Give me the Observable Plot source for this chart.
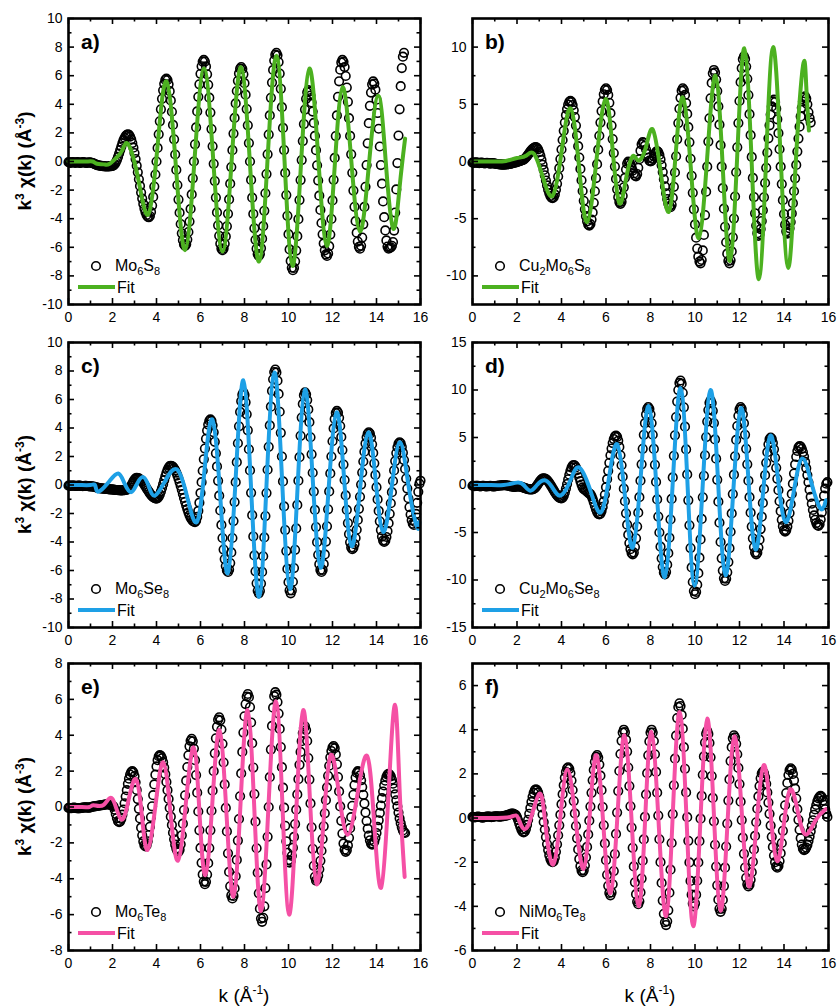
<!DOCTYPE html>
<html>
<head>
<meta charset="utf-8">
<script src="https://cdn.jsdelivr.net/npm/d3@7"></script>
<script src="https://cdn.jsdelivr.net/npm/@observablehq/plot@0.6"></script>
<style>
  body { margin: 0; background: #fff; }
  #fig { position: relative; width: 839px; height: 1008px; font-family: "Liberation Sans", Arial, sans-serif; }
  #fig svg { position: absolute; overflow: visible; }
</style>
</head>
<body>
<div id="fig"></div>
<script>
// k grid of the measured spectra: k = 0, 0.05, 0.10, ... (Å^-1)
const kStep = 0.05;

// Measured k^3·chi(k), one value per grid point
const expMo6S8 = [
  -0.05,-0.08,-0.1,-0.06,-0.04,-0.07,-0.1,-0.08,-0.05,-0.06,-0.09,-0.1,-0.07,-0.05,-0.06,-0.08,-0.1,-0.09,-0.07,-0.06,-0.08,-0.1,-0.12,-0.15,
  -0.18,-0.22,-0.25,-0.27,-0.28,-0.3,-0.31,-0.32,-0.33,-0.34,-0.35,-0.35,-0.35,-0.34,-0.33,-0.32,
  -0.3,
  -0.27,-0.19,-0.06,0.11,0.32,0.56,0.8,1.04,1.28,1.49,1.66,1.79,1.87,1.9,
  1.86,1.74,1.55,1.29,0.97,0.59,0.17,-0.29,-0.76,-1.24,-1.71,-2.17,-2.59,-2.97,-3.29,-3.55,-3.74,-3.86,-3.9,
  -3.81,-3.53,-3.08,-2.48,-1.75,-0.91,0,0.95,1.9,2.81,3.65,4.38,4.98,5.43,5.71,5.8,
  5.7,5.4,4.92,4.27,3.48,2.56,1.55,0.49,-0.59,-1.65,-2.66,-3.58,-4.37,-5.02,-5.5,-5.8,-5.9,
  -5.79,-5.46,-4.93,-4.2,-3.32,-2.3,-1.18,0,1.2,2.38,3.5,4.52,5.4,6.13,6.66,6.99,7.1,
  6.99,6.65,6.1,5.36,4.46,3.42,2.27,1.06,-0.16,-1.37,-2.52,-3.56,-4.46,-5.2,-5.75,-6.09,-6.2,
  -6.09,-5.76,-5.24,-4.53,-3.66,-2.65,-1.55,-0.39,0.79,1.95,3.05,4.06,4.93,5.64,6.16,6.49,6.6,
  6.47,6.1,5.48,4.67,3.67,2.53,1.29,0,-1.29,-2.53,-3.67,-4.67,-5.48,-6.1,-6.47,-6.6,
  -6.47,-6.06,-5.4,-4.52,-3.45,-2.22,-0.88,0.5,1.88,3.22,4.45,5.52,6.4,7.06,7.47,7.6,
  7.43,6.95,6.15,5.08,3.8,2.35,0.8,-0.8,-2.35,-3.8,-5.08,-6.15,-6.95,-7.43,-7.6,
  -7.44,-6.98,-6.23,-5.22,-4.03,-2.7,-1.3,0.1,1.43,2.62,3.63,4.38,4.84,5.0,
  4.9,4.61,4.13,3.49,2.7,1.79,0.79,-0.27,-1.33,-2.39,-3.39,-4.3,-5.09,-5.73,-6.21,-6.5,-6.6,
  -6.43,-5.92,-5.11,-4.02,-2.72,-1.28,0.25,1.78,3.22,4.52,5.61,6.42,6.93,7.1,
  6.97,6.6,5.98,5.17,4.17,3.03,1.79,0.5,-0.79,-2.03,-3.17,-4.17,-4.98,-5.6,-5.97,-6.1,
  -5.9,-5.32,-4.39,-3.18,-1.77,-0.25,1.27,2.68,3.89,4.82,5.4,5.6,
  5.45,5.02,4.32,3.39,2.29,1.05,-0.25,-1.55,-2.79,-3.89,-4.82,-5.52,-5.95,-6.1,
  -6.05,-6.0,-5.9,
  -5.63,-4.83,-3.57,-1.95,-0.11,1.81,3.65,5.27,6.53,7.33,7.6
];
const expCu2Mo6S8 = [
  -0.1,-0.12,-0.1,-0.08,-0.1,-0.12,-0.14,-0.12,-0.1,-0.12,-0.15,-0.16,-0.14,-0.12,-0.14,-0.16,-0.18,-0.17,-0.15,-0.16,-0.18,
  -0.2,-0.22,-0.24,-0.25,-0.26,-0.27,-0.28,-0.28,-0.27,-0.26,-0.25,-0.24,-0.22,-0.2,-0.18,-0.15,-0.12,-0.1,-0.08,-0.05,-0.02,0.02,0.06,0.1,
  0.12,0.17,0.24,0.35,0.47,0.61,0.74,0.88,1.0,1.11,1.18,1.23,1.25,
  1.2,1.06,0.82,0.51,0.14,-0.29,-0.74,-1.21,-1.66,-2.09,-2.46,-2.77,-3.01,-3.15,-3.2,
  -3.12,-2.88,-2.48,-1.95,-1.31,-0.58,0.22,1.05,1.88,2.68,3.41,4.05,4.58,4.98,5.22,5.3,
  5.21,4.93,4.48,3.88,3.14,2.28,1.34,0.35,-0.65,-1.64,-2.58,-3.44,-4.18,-4.78,-5.23,-5.51,-5.6,
  -5.47,-5.08,-4.45,-3.61,-2.6,-1.45,-0.23,1.03,2.25,3.4,4.41,5.25,5.88,6.27,6.4,
  6.25,5.82,5.13,4.22,3.14,1.96,0.74,-0.44,-1.52,-2.43,-3.12,-3.55,-3.7,
  -3.52,-3.0,-2.26,-1.44,-0.7,-0.18,0,
  -0.06,-0.25,-0.5,-0.79,-1.05,-1.24,-1.3,
  -1.1,-0.55,0.2,0.95,1.5,1.7,
  1.62,1.38,1.04,0.66,0.32,0.08,0,
  0.06,0.23,0.45,0.68,0.84,0.9,
  0.82,0.57,0.18,-0.33,-0.92,-1.55,-2.18,-2.78,-3.28,-3.67,-3.92,-4.0,
  -3.79,-3.17,-2.21,-0.96,0.46,1.94,3.36,4.61,5.57,6.19,6.4,
  6.25,5.82,5.11,4.16,3.0,1.68,0.24,-1.25,-2.74,-4.18,-5.5,-6.66,-7.61,-8.32,-8.75,-8.9,
  -8.61,-7.77,-6.42,-4.68,-2.64,-0.45,1.74,3.78,5.52,6.87,7.71,8.0,
  7.79,7.16,6.16,4.81,3.22,1.43,-0.45,-2.33,-4.12,-5.71,-7.06,-8.06,-8.69,-8.9,
  -8.64,-7.86,-6.63,-4.99,-3.06,-0.94,1.24,3.36,5.29,6.93,8.16,8.94,9.2,
  8.97,8.3,7.23,5.81,4.14,2.3,0.4,-1.44,-3.11,-4.53,-5.6,-6.27,-6.5,
  -6.35,-5.91,-5.2,-4.26,-3.13,-1.88,-0.55,0.78,2.03,3.16,4.1,4.81,5.25,5.4,
  5.2,4.62,3.69,2.48,1.07,-0.45,-1.97,-3.38,-4.59,-5.52,-6.1,-6.3,
  -6.19,-5.84,-5.29,-4.54,-3.64,-2.6,-1.47,-0.3,0.87,2.0,3.04,3.94,4.69,5.24,5.59,5.7,
  5.5,5.0,4.3,3.8,3.4
];
const expMo6Se8 = [
  -0.05,-0.05,-0.06,-0.05,-0.04,-0.05,-0.06,-0.07,-0.06,-0.05,-0.05,-0.06,-0.07,-0.08,-0.07,-0.06,-0.06,-0.07,-0.08,-0.09,-0.1,-0.1,-0.11,-0.12,-0.14,-0.16,
  -0.18,-0.2,-0.22,-0.23,-0.24,-0.25,-0.26,-0.27,-0.28,-0.28,-0.29,-0.3,-0.3,-0.31,-0.32,-0.33,-0.34,-0.35,-0.35,-0.36,-0.37,-0.38,-0.38,-0.38,-0.37,-0.36,-0.34,-0.32,-0.3,
  -0.27,-0.18,-0.05,0.1,0.25,0.38,0.47,0.5,
  0.49,0.46,0.4,0.33,0.24,0.14,0.02,-0.1,-0.23,-0.35,-0.47,-0.59,-0.69,-0.78,-0.85,-0.91,-0.94,-0.95,
  -0.92,-0.82,-0.66,-0.45,-0.21,0.06,0.34,0.61,0.85,1.06,1.22,1.32,1.35,
  1.33,1.27,1.17,1.04,0.87,0.67,0.44,0.19,-0.07,-0.34,-0.63,-0.91,-1.18,-1.44,-1.69,-1.92,-2.12,-2.29,-2.42,-2.52,-2.58,-2.6,
  -2.51,-2.24,-1.82,-1.24,-0.56,0.2,1.0,1.8,2.56,3.24,3.82,4.24,4.51,4.6,
  4.5,4.19,3.7,3.03,2.22,1.3,0.29,-0.75,-1.79,-2.8,-3.72,-4.53,-5.2,-5.69,-6.0,-6.1,
  -5.94,-5.48,-4.73,-3.72,-2.53,-1.2,0.2,1.6,2.93,4.12,5.13,5.88,6.34,6.5,
  6.32,5.8,4.96,3.84,2.51,1.02,-0.55,-2.12,-3.61,-4.94,-6.06,-6.9,-7.42,-7.6,
  -7.43,-6.92,-6.1,-5.0,-3.68,-2.18,-0.57,1.07,2.68,4.18,5.5,6.6,7.42,7.93,8.1,
  7.9,7.32,6.39,5.14,3.66,2.0,0.25,-1.5,-3.16,-4.64,-5.89,-6.82,-7.4,-7.6,
  -7.4,-6.79,-5.83,-4.55,-3.05,-1.4,0.3,1.95,3.45,4.73,5.69,6.3,6.5,
  6.36,5.96,5.3,4.41,3.35,2.15,0.86,-0.46,-1.75,-2.95,-4.01,-4.9,-5.56,-5.96,-6.1,
  -5.96,-5.54,-4.87,-3.97,-2.9,-1.71,-0.45,0.81,2.0,3.07,3.97,4.64,5.06,5.2,
  5.08,4.72,4.14,3.37,2.45,1.43,0.35,-0.73,-1.75,-2.67,-3.44,-4.02,-4.38,-4.5,
  -4.41,-4.15,-3.72,-3.14,-2.45,-1.67,-0.83,0.03,0.87,1.65,2.34,2.92,3.35,3.61,3.7,
  3.6,3.32,2.86,2.25,1.52,0.71,-0.15,-1.01,-1.82,-2.55,-3.16,-3.62,-3.9,-4.0,
  -3.91,-3.65,-3.24,-2.68,-2.02,-1.28,-0.5,0.28,1.02,1.68,2.24,2.65,2.91,3.0,
  2.92,2.67,2.27,1.75,1.13,0.45,-0.25,-0.93,-1.55,-2.07,-2.47,-2.72,-2.8,
  -2.59,-2.03,-1.25,-0.48,0.09,0.3
];
const expCu2Mo6Se8 = [
  -0.08,-0.1,-0.12,-0.1,-0.08,-0.1,-0.12,-0.14,-0.12,-0.1,-0.1,-0.12,-0.14,-0.15,-0.13,-0.11,-0.1,-0.12,-0.14,-0.15,-0.14,-0.12,-0.1,-0.08,-0.06,
  -0.05,-0.04,-0.03,-0.02,-0.02,-0.03,-0.05,-0.07,-0.1,-0.13,-0.16,-0.18,-0.2,-0.2,-0.18,-0.16,-0.15,-0.16,-0.18,-0.2,
  -0.24,-0.28,-0.32,-0.36,-0.4,-0.43,-0.45,-0.46,-0.46,-0.45,
  -0.42,-0.34,-0.21,-0.05,0.13,0.3,0.46,0.59,0.67,0.7,
  0.68,0.62,0.52,0.39,0.23,0.05,-0.15,-0.35,-0.55,-0.75,-0.93,-1.09,-1.22,-1.32,-1.38,-1.4,
  -1.33,-1.12,-0.8,-0.38,0.1,0.6,1.08,1.5,1.82,2.03,2.1,
  2.04,1.85,1.56,1.2,0.8,0.4,0.04,-0.25,-0.44,-0.5,
  -0.6,-0.7,-0.8,-0.9,
  -0.97,-1.16,-1.45,-1.81,-2.19,-2.55,-2.84,-3.03,-3.1,
  -3.01,-2.74,-2.31,-1.73,-1.03,-0.23,0.61,1.49,2.33,3.13,3.83,4.41,4.84,5.11,5.2,
  5.06,4.66,4.01,3.13,2.08,0.88,-0.39,-1.71,-2.98,-4.18,-5.23,-6.11,-6.76,-7.16,-7.3,
  -7.11,-6.53,-5.61,-4.38,-2.91,-1.28,0.45,2.18,3.81,5.28,6.51,7.43,8.01,8.2,
  8.01,7.44,6.52,5.29,3.8,2.12,0.32,-1.52,-3.32,-5.0,-6.49,-7.72,-8.64,-9.21,-9.4,
  -9.15,-8.39,-7.18,-5.55,-3.63,-1.47,0.8,3.07,5.23,7.15,8.78,9.99,10.75,11.0,
  10.67,9.71,8.18,6.14,3.74,1.11,-1.61,-4.24,-6.64,-8.68,-10.21,-11.17,-11.5,
  -11.25,-10.49,-9.28,-7.65,-5.73,-3.57,-1.3,0.97,3.13,5.05,6.68,7.89,8.65,8.9,
  8.62,7.81,6.52,4.8,2.77,0.55,-1.75,-3.97,-6.0,-7.72,-9.01,-9.82,-10.1,
  -9.87,-9.19,-8.11,-6.65,-4.92,-2.99,-0.95,1.09,3.02,4.75,6.21,7.29,7.97,8.2,
  8.01,7.43,6.51,5.28,3.81,2.18,0.45,-1.28,-2.91,-4.38,-5.61,-6.53,-7.11,-7.3,
  -7.12,-6.59,-5.76,-4.64,-3.33,-1.89,-0.41,1.03,2.34,3.46,4.29,4.82,5.0,
  4.86,4.43,3.76,2.86,1.81,0.65,-0.55,-1.71,-2.76,-3.66,-4.33,-4.76,-4.9,
  -4.77,-4.38,-3.77,-2.96,-2.0,-0.94,0.14,1.2,2.16,2.97,3.58,3.97,4.1,
  4.03,3.81,3.47,3.0,2.43,1.77,1.05,0.29,-0.49,-1.25,-1.97,-2.63,-3.2,-3.67,-4.01,-4.23,-4.3,
  -4.13,-3.63,-2.88,-2.0,-1.12,-0.37,0.13,0.3
];
const expMo6Te8 = [
  -0.05,-0.06,-0.07,-0.06,-0.05,-0.04,-0.05,-0.06,-0.07,-0.08,-0.07,-0.06,-0.05,-0.04,-0.03,-0.02,-0.02,-0.03,-0.04,-0.03,-0.02,0,0.02,0.03,0.04,0.05,0.06,0.07,0.08,0.09,0.1,0.11,0.12,
  0.13,0.14,0.15,0.15,0.14,0.12,0.1,0.08,
  0.02,-0.15,-0.39,-0.62,-0.79,-0.85,
  -0.8,-0.66,-0.43,-0.14,0.21,0.58,0.94,1.29,1.58,1.81,1.95,2.0,
  1.93,1.72,1.38,0.95,0.44,-0.1,-0.64,-1.15,-1.58,-1.92,-2.13,-2.2,
  -2.13,-1.91,-1.56,-1.1,-0.56,0.04,0.66,1.26,1.8,2.26,2.61,2.83,2.9,
  2.85,2.72,2.5,2.2,1.83,1.4,0.94,0.45,-0.05,-0.54,-1.0,-1.43,-1.8,-2.1,-2.32,-2.45,-2.5,
  -2.39,-2.08,-1.58,-0.93,-0.17,0.65,1.47,2.23,2.88,3.38,3.69,3.8,
  3.66,3.26,2.61,1.78,0.8,-0.25,-1.3,-2.28,-3.11,-3.76,-4.16,-4.3,
  -4.17,-3.77,-3.13,-2.29,-1.3,-0.21,0.91,2.0,2.99,3.83,4.47,4.87,5.0,
  4.83,4.32,3.52,2.48,1.26,-0.05,-1.36,-2.58,-3.62,-4.42,-4.93,-5.1,
  -4.96,-4.54,-3.86,-2.95,-1.87,-0.67,0.6,1.87,3.07,4.15,5.06,5.74,6.16,6.3,
  6.12,5.57,4.71,3.56,2.2,0.72,-0.82,-2.3,-3.66,-4.81,-5.67,-6.22,-6.4,
  -6.18,-5.54,-4.52,-3.2,-1.66,0,1.66,3.2,4.52,5.54,6.18,6.4,
  6.26,5.85,5.21,4.35,3.34,2.22,1.08,-0.04,-1.05,-1.91,-2.55,-2.96,-3.1,
  -3.01,-2.72,-2.27,-1.67,-0.95,-0.15,0.7,1.55,2.35,3.07,3.67,4.12,4.41,4.5,
  4.29,3.68,2.73,1.53,0.2,-1.13,-2.33,-3.28,-3.89,-4.1,
  -4.03,-3.82,-3.47,-3.0,-2.44,-1.79,-1.08,-0.35,0.38,1.09,1.74,2.3,2.77,3.12,3.33,3.4,
  3.28,2.93,2.38,1.67,0.87,0.03,-0.77,-1.48,-2.03,-2.38,-2.5,
  -2.41,-2.14,-1.72,-1.18,-0.57,0.07,0.68,1.22,1.64,1.91,2.0,
  1.94,1.76,1.49,1.11,0.68,0.2,-0.3,-0.78,-1.21,-1.59,-1.86,-2.04,-2.1,
  -2.06,-1.93,-1.72,-1.45,-1.11,-0.74,-0.33,0.08,0.49,0.86,1.2,1.47,1.68,1.81,1.85,
  1.81,1.71,1.53,1.3,1.03,0.71,0.37,0.03,-0.31,-0.63,-0.9,-1.13,-1.31,-1.41,-1.45
];
const expNiMo6Te8 = [
  0.05,0.04,0.03,0.04,0.05,0.06,0.05,0.04,0.03,0.02,0.03,0.04,0.05,0.06,0.07,0.06,0.05,0.04,0.05,0.06,0.07,0.08,0.08,0.07,0.06,0.06,0.07,0.08,0.09,0.1,0.11,
  0.12,0.14,0.16,0.18,0.2,0.2,0.19,0.16,
  0.13,0.04,-0.09,-0.25,-0.4,-0.53,-0.62,-0.65,
  -0.61,-0.5,-0.31,-0.08,0.19,0.46,0.73,0.96,1.14,1.26,1.3,
  1.26,1.16,0.98,0.75,0.48,0.16,-0.18,-0.52,-0.86,-1.18,-1.45,-1.68,-1.86,-1.96,-2.0,
  -1.95,-1.79,-1.53,-1.19,-0.78,-0.33,0.15,0.63,1.08,1.49,1.83,2.09,2.25,2.3,
  2.23,2.03,1.7,1.27,0.77,0.21,-0.36,-0.92,-1.42,-1.85,-2.18,-2.38,-2.45,
  -2.37,-2.15,-1.78,-1.31,-0.74,-0.12,0.52,1.14,1.71,2.18,2.55,2.77,2.85,
  2.74,2.42,1.92,1.26,0.5,-0.33,-1.15,-1.91,-2.57,-3.07,-3.39,-3.5,
  -3.37,-3.0,-2.4,-1.63,-0.72,0.25,1.22,2.13,2.9,3.5,3.87,4.0,
  3.89,3.55,3.01,2.29,1.45,0.53,-0.43,-1.35,-2.19,-2.91,-3.45,-3.79,-3.9,
  -3.77,-3.37,-2.74,-1.93,-0.97,0.05,1.07,2.03,2.84,3.47,3.87,4.0,
  3.87,3.49,2.89,2.09,1.15,0.11,-0.96,-2.0,-2.94,-3.74,-4.34,-4.72,-4.85,
  -4.68,-4.18,-3.38,-2.34,-1.13,0.18,1.48,2.69,3.73,4.53,5.03,5.2,
  5.07,4.67,4.05,3.21,2.23,1.16,0.04,-1.03,-2.01,-2.85,-3.47,-3.87,-4.0,
  -3.87,-3.47,-2.84,-2.01,-1.05,-0.03,1.0,1.96,2.79,3.42,3.82,3.95,
  3.81,3.4,2.75,1.9,0.91,-0.15,-1.21,-2.2,-3.05,-3.7,-4.11,-4.25,
  -4.11,-3.71,-3.08,-2.25,-1.29,-0.25,0.79,1.75,2.58,3.21,3.61,3.75,
  3.65,3.36,2.89,2.27,1.54,0.74,-0.09,-0.89,-1.62,-2.24,-2.71,-3.0,-3.1,
  -3.02,-2.8,-2.45,-1.98,-1.42,-0.81,-0.19,0.42,0.98,1.45,1.8,2.02,2.1,
  2.04,1.85,1.55,1.16,0.7,0.19,-0.34,-0.85,-1.31,-1.7,-2.0,-2.19,-2.25,
  -2.17,-1.95,-1.59,-1.13,-0.58,0,0.58,1.13,1.59,1.95,2.17,2.25,
  2.19,2.0,1.71,1.33,0.88,0.4,-0.08,-0.53,-0.91,-1.2,-1.39,-1.45,
  -1.42,-1.34,-1.22,-1.04,-0.84,-0.6,-0.35,-0.1,0.15,0.39,0.59,0.77,0.89,0.97,1.0,
  0.95,0.8,0.6,0.4,0.2,0.05
];

// Fitted model, [k, k^3·chi(k)] nodes
const fitMo6S8 = [[0,0],[0.4,0],[0.8,0],[1.1,0],[1.3,-0.16],[1.6,-0.2],[1.85,-0.18],[2.2,0.3],[2.45,0.8],[2.72,1.2],[3.18,-1.3],[3.63,-3.7],[4.04,0.95],[4.45,5.6],[4.88,-0.3],[5.3,-6.2],[5.73,0.15],[6.16,6.5],[6.58,0.1],[7.0,-6.3],[7.42,0.15],[7.84,6.6],[8.25,-0.2],[8.66,-7.0],[9.05,0.2],[9.45,7.4],[9.82,0.05],[10.18,-7.3],[10.56,-0.4],[10.95,6.5],[11.35,0.3],[11.74,-5.9],[12.1,-0.35],[12.46,5.2],[12.85,0.15],[13.25,-4.9],[13.66,-0.15],[14.08,4.6],[14.42,0],[14.76,-4.7],[15.05,-1.8],[15.3,1.6]];
const fitCu2Mo6S8 = [[0,0],[0.5,0],[1.0,0],[1.5,0.05],[2.0,0.3],[2.4,0.5],[2.75,0.7],[3.15,-1.3],[3.6,-3.0],[4.0,0.8],[4.4,4.65],[4.78,-0.3],[5.15,-5.3],[5.57,0.1],[5.98,5.45],[6.3,1.0],[6.6,-3.65],[6.9,-1.5],[7.15,0.3],[7.3,0.4],[7.5,0.1],[7.8,1.3],[8.1,2.8],[8.45,-0.8],[8.82,-4.4],[9.13,0.6],[9.45,5.6],[9.81,-0.5],[10.17,-6.7],[10.55,0.4],[10.92,7.5],[11.25,-0.6],[11.57,-8.7],[11.9,0.6],[12.22,9.9],[12.55,-0.2],[12.87,-10.3],[13.19,-0.1],[13.51,10.0],[13.85,0.35],[14.19,-9.3],[14.52,-0.4],[14.86,8.45],[15.0,6.6],[15.12,2.7]];
const fitMo6Se8 = [[0,0],[0.5,0],[1.0,0],[1.2,0],[1.28,-0.38],[1.45,-0.4],[1.85,0.25],[2.26,0.8],[2.55,0.1],[2.85,-0.5],[3.12,0.1],[3.4,0.55],[3.65,-0.1],[3.93,-0.75],[4.4,0.3],[4.92,1.1],[5.38,-0.75],[5.83,-2.6],[6.18,1.0],[6.54,4.6],[6.9,-0.85],[7.24,-6.2],[7.6,0.5],[7.95,7.35],[8.3,-0.25],[8.66,-7.85],[9.0,0.0],[9.36,7.9],[9.71,0.3],[10.07,-7.3],[10.41,-0.25],[10.75,6.7],[11.1,0.45],[11.46,-5.8],[11.82,-0.35],[12.19,5.1],[12.53,0.4],[12.87,-4.3],[13.25,-0.3],[13.63,3.7],[13.97,0.2],[14.31,-3.3],[14.69,-0.15],[15.07,3.0],[15.45,0.0],[15.83,-2.9],[15.95,-2.6]];
const fitCu2Mo6Se8 = [[0,0],[0.7,0],[1.4,0],[2.0,0.25],[2.3,0.0],[2.6,-0.6],[2.9,0.0],[3.25,0.5],[3.6,-0.3],[3.97,-1.1],[4.4,0.5],[4.79,1.85],[5.3,-0.6],[5.76,-2.9],[6.13,0.7],[6.5,4.3],[6.85,-1.15],[7.2,-6.6],[7.56,0.85],[7.92,8.3],[8.28,-0.7],[8.64,-9.7],[9.0,0.25],[9.35,10.2],[9.67,-0.2],[9.98,-10.6],[10.34,-0.3],[10.7,10.0],[11.04,0.25],[11.37,-9.5],[11.72,-0.7],[12.07,8.1],[12.4,0.65],[12.72,-6.8],[13.06,-0.8],[13.39,5.2],[13.73,0.65],[14.07,-3.9],[14.45,-0.55],[14.82,2.8],[15.24,0.15],[15.65,-2.5],[15.88,-1.6]];
const fitMo6Te8 = [[0,0],[0.5,0],[0.95,0],[1.15,0.1],[1.6,0.12],[2.0,0.45],[2.4,-0.7],[2.75,0.5],[3.07,1.55],[3.33,-0.4],[3.59,-2.4],[3.95,0.05],[4.3,2.5],[4.63,-0.25],[4.97,-3.0],[5.33,0.15],[5.69,3.33],[5.95,-0.25],[6.22,-3.8],[6.54,0.25],[6.86,4.3],[7.18,-0.35],[7.5,-5.0],[7.82,0.2],[8.14,5.4],[8.45,-0.2],[8.75,-5.8],[9.09,0.05],[9.43,5.9],[9.73,-0.05],[10.03,-6.0],[10.35,-0.3],[10.67,5.4],[10.97,0.55],[11.28,-4.3],[11.6,-0.7],[11.92,2.9],[12.3,0.7],[12.68,-1.55],[13.12,0.6],[13.57,2.85],[13.89,-0.8],[14.21,-4.5],[14.54,0.6],[14.84,5.7],[15.05,1.0],[15.28,-3.9]];
const fitNiMo6Te8 = [[0,0],[0.8,0],[1.7,0.05],[2.05,0.0],[2.46,-0.42],[3.0,1.1],[3.3,-0.5],[3.63,-2.1],[3.95,0.05],[4.27,2.2],[4.63,-0.05],[4.99,-2.3],[5.28,0.3],[5.57,2.85],[5.88,-0.3],[6.2,-3.4],[6.52,0.2],[6.83,3.75],[7.15,-0.1],[7.47,-4.0],[7.76,-0.05],[8.04,3.9],[8.37,-0.3],[8.7,-4.45],[9.0,0.15],[9.31,4.8],[9.62,-0.05],[9.92,-4.9],[10.24,-0.2],[10.55,4.5],[10.85,0.15],[11.15,-4.2],[11.46,-0.25],[11.77,3.7],[12.1,0.3],[12.42,-3.1],[12.76,-0.35],[13.09,2.4],[13.39,0.25],[13.69,-1.95],[13.99,-0.3],[14.29,1.3],[14.63,0.25],[14.97,-0.75],[15.42,-0.1],[15.87,0.4]];

// Axis ticks
const kTicks = [0, 2, 4, 6, 8, 10, 12, 14, 16];
const kMinor = [1, 3, 5, 7, 9, 11, 13, 15];
const yTicks10 = [-10, -8, -6, -4, -2, 0, 2, 4, 6, 8, 10];
const yMinor10 = [-9, -7, -5, -3, -1, 1, 3, 5, 7, 9];
const yTicksB = [-10, -5, 0, 5, 10];
const yMinorB = [-7.5, -2.5, 2.5, 7.5];
const yTicksD = [-15, -10, -5, 0, 5, 10, 15];
const yMinorD = [-12.5, -7.5, -2.5, 2.5, 7.5, 12.5];
const yTicksE = [-8, -6, -4, -2, 0, 2, 4, 6, 8];
const yMinorE = [-7, -5, -3, -1, 1, 3, 5, 7];
const yTicksF = [-6, -4, -2, 0, 2, 4, 6];
const yMinorF = [-5, -3, -1, 1, 3, 5];

const GREEN = "#4cb120", BLUE = "#1ea0e6", PINK = "#f550a5";
const FONT = '"Liberation Sans", Arial, Helvetica, sans-serif';

const panels = [
  {letter: "a", name: "Mo6S8",     exp: expMo6S8,     fit: fitMo6S8,     color: GREEN, y: [-10, 10],     major: yTicks10, minor: yMinor10, col: 0, row: 0},
  {letter: "b", name: "Cu2Mo6S8",  exp: expCu2Mo6S8,  fit: fitCu2Mo6S8,  color: GREEN, y: [-12.5, 12.5], major: yTicksB,  minor: yMinorB,  col: 1, row: 0},
  {letter: "c", name: "Mo6Se8",    exp: expMo6Se8,    fit: fitMo6Se8,    color: BLUE,  y: [-10, 10],     major: yTicks10, minor: yMinor10, col: 0, row: 1},
  {letter: "d", name: "Cu2Mo6Se8", exp: expCu2Mo6Se8, fit: fitCu2Mo6Se8, color: BLUE,  y: [-15, 15],     major: yTicksD,  minor: yMinorD,  col: 1, row: 1},
  {letter: "e", name: "Mo6Te8",    exp: expMo6Te8,    fit: fitMo6Te8,    color: PINK,  y: [-8, 8],       major: yTicksE,  minor: yMinorE,  col: 0, row: 2},
  {letter: "f", name: "NiMo6Te8",  exp: expNiMo6Te8,  fit: fitNiMo6Te8,  color: PINK,  y: [-6, 7],       major: yTicksF,  minor: yMinorF,  col: 1, row: 2}
];

// Page layout of the 3x2 grid
const cols = [
  {left: 0,   width: 424, ml: 68, mr: 4},
  {left: 420, width: 419, ml: 52, mr: 11}
];
const rows = [
  {top: 0,   height: 330, mt: 18, mb: 26},
  {top: 320, height: 330, mt: 22, mb: 23},
  {top: 640, height: 340, mt: 23, mb: 30}
];

const fig = d3.select("#fig");

// chemical formula with subscripted digits
function formula(text, s) {
  let sub = false;
  for (const part of s.match(/[A-Za-z]+|\d+/g)) {
    const isSub = /\d/.test(part);
    const t = text.append("tspan").text(part);
    if (isSub) t.attr("font-size", 11);
    if (isSub !== sub) t.attr("dy", isSub ? 4 : -4);
    sub = isSub;
  }
}

for (const p of panels) {
  const c = cols[p.col], r = rows[p.row];
  const innerW = c.width - c.ml - c.mr;
  const innerH = r.height - r.mt - r.mb;
  const exp = p.exp.map((v, i) => ({k: Math.round(i * kStep * 100) / 100, v}));
  const fit = p.fit.map(([k, v]) => ({k, v}));
  const tickW = 1.6;

  const chart = Plot.plot({
    width: c.width,
    height: r.height,
    marginLeft: c.ml,
    marginRight: c.mr,
    marginTop: r.mt,
    marginBottom: r.mb,
    style: {background: "transparent", overflow: "visible", fontFamily: FONT, fontSize: "14px", color: "#000"},
    x: {domain: [0, 16]},
    y: {domain: p.y},
    marks: [
      Plot.dot(exp, {x: "k", y: "v", r: 4.3, stroke: "#000", strokeWidth: 1.6, fill: "none"}),
      Plot.line(fit, {x: "k", y: "v", stroke: p.color, strokeWidth: 4, curve: "natural"}),
      // inward ticks on all four sides
      Plot.ruleX(kTicks, {insetTop: innerH - 6, stroke: "#000", strokeWidth: tickW}),
      Plot.ruleX(kTicks, {insetBottom: innerH - 6, stroke: "#000", strokeWidth: tickW}),
      Plot.ruleX(kMinor, {insetTop: innerH - 3.5, stroke: "#000", strokeWidth: tickW}),
      Plot.ruleX(kMinor, {insetBottom: innerH - 3.5, stroke: "#000", strokeWidth: tickW}),
      Plot.ruleY(p.major, {insetRight: innerW - 6, stroke: "#000", strokeWidth: tickW}),
      Plot.ruleY(p.major, {insetLeft: innerW - 6, stroke: "#000", strokeWidth: tickW}),
      Plot.ruleY(p.minor, {insetRight: innerW - 3.5, stroke: "#000", strokeWidth: tickW}),
      Plot.ruleY(p.minor, {insetLeft: innerW - 3.5, stroke: "#000", strokeWidth: tickW}),
      Plot.frame({stroke: "#000", strokeWidth: 2.6}),
      Plot.axisX({ticks: kTicks, anchor: "bottom", tickSize: 0, tickPadding: 8, tickFormat: d => String(d), label: null, fontSize: 14}),
      Plot.axisY({ticks: p.major, anchor: "left", tickSize: 0, tickPadding: 6, tickFormat: d => String(d), label: null, fontSize: 14})
    ]
  });

  const svg = d3.select(chart)
    .style("left", c.left + "px")
    .style("top", r.top + "px");
  fig.node().appendChild(chart);

  const fx = c.ml, ft = r.mt, fb = r.height - r.mb;
  // panel letter
  svg.append("text")
    .attr("x", fx + 13).attr("y", ft + 31)
    .attr("text-anchor", "start")
    .attr("font-family", FONT).attr("font-weight", "bold").attr("font-size", 21)
    .text(p.letter + ")");
  // legend
  svg.append("circle")
    .attr("cx", fx + 28).attr("cy", fb - 38).attr("r", 4.3)
    .attr("fill", "none").attr("stroke", "#000").attr("stroke-width", 1.6);
  formula(svg.append("text")
    .attr("x", fx + 47).attr("y", fb - 33)
    .attr("text-anchor", "start")
    .attr("font-family", FONT).attr("font-size", 16), p.name);
  svg.append("line")
    .attr("x1", fx + 10).attr("x2", fx + 47)
    .attr("y1", fb - 17).attr("y2", fb - 17)
    .attr("stroke", p.color).attr("stroke-width", 4);
  svg.append("text")
    .attr("x", fx + 49).attr("y", fb - 11)
    .attr("text-anchor", "start")
    .attr("font-family", FONT).attr("font-size", 16)
    .text("Fit");
}

// axis titles
const ov = fig.append("svg")
  .attr("width", 839).attr("height", 1008)
  .style("left", "0px").style("top", "0px")
  .attr("font-family", FONT);

for (const r of rows) {
  const cy = r.top + r.mt + (r.height - r.mt - r.mb) / 2;
  const t = ov.append("text")
    .attr("transform", `translate(31,${cy}) rotate(-90)`)
    .attr("text-anchor", "middle")
    .attr("font-weight", "bold").attr("font-size", 19);
  t.append("tspan").text("k");
  t.append("tspan").text("3").attr("font-size", 12).attr("dy", -7);
  t.append("tspan").text(" χ(k) (Å").attr("dy", 7);
  t.append("tspan").text("-3").attr("font-size", 12).attr("dy", -7);
  t.append("tspan").text(")").attr("dy", 7);
}

for (const c of cols) {
  const cx = c.left + c.ml + (c.width - c.ml - c.mr) / 2;
  const t = ov.append("text")
    .attr("x", cx).attr("y", 1002)
    .attr("text-anchor", "middle").attr("font-size", 19);
  t.append("tspan").text("k (Å");
  t.append("tspan").text("-1").attr("font-size", 12).attr("dy", -8);
  t.append("tspan").text(")").attr("dy", 8);
}
</script>
</body>
</html>
